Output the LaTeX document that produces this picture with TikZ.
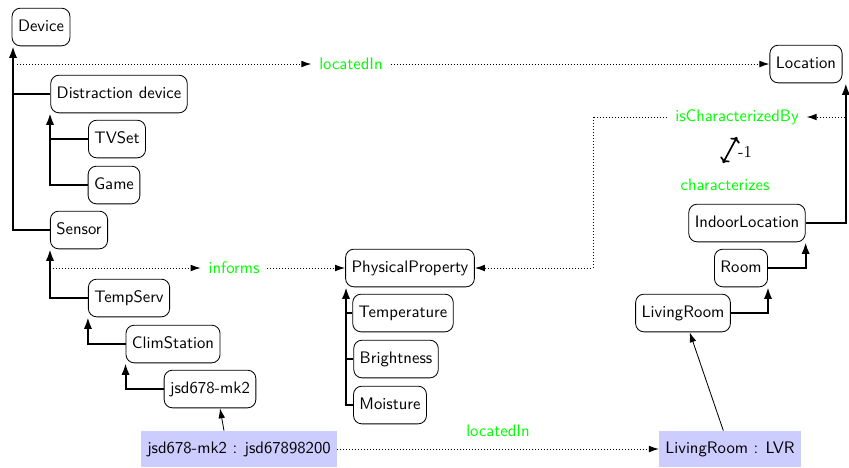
\documentclass[tikz,border=0pt]{standalone}
\usetikzlibrary{arrows.meta}
\begin{document}
\begin{tikzpicture}[x=0.6pt,y=-0.6pt,font=\sffamily,
  cls/.style={draw,line width=0.5pt,rounded corners=5pt,inner xsep=3.6pt,
    minimum height=22.6pt,text height=7pt,text depth=2pt},
  inst/.style={fill=blue!20,inner xsep=3.6pt,minimum height=21.6pt,
    text height=7pt,text depth=2pt},
  isa/.style={line width=1.2pt,-{Latex[length=7pt,width=5pt]}},
  rel/.style={line width=0.6pt,dash pattern=on 0.6pt off 1.2pt,-{Latex[length=6pt,width=4pt]}},
  reltail/.style={line width=0.6pt,dash pattern=on 0.6pt off 1.2pt},
  lbl/.style={text=green,inner xsep=4.5pt,inner ysep=1pt},
  io/.style={line width=0.5pt,-{Latex[length=6pt,width=4pt]}}]
\useasboundingbox (0,0) rectangle (849,467);

% classes
\node[cls] (device)   at (41,27)  {Device};
\node[cls] (location) at (806,64) {Location};
\node[cls] (distr)    at (119,94) {Distraction device};
\node[cls] (tvset)    at (117,139) {TVSet};
\node[cls] (game)     at (114,185) {Game};
\node[cls] (sensor)   at (79,230) {Sensor};
\node[cls] (tempserv) at (129,298) {TempServ};
\node[cls] (clim)     at (173,344) {ClimStation};
\node[cls] (mk2)      at (210,389) {jsd678-mk2};
\node[cls] (phys)     at (410,268) {PhysicalProperty};
\node[cls] (temp)     at (403,313) {Temperature};
\node[cls] (bright)   at (396,359) {Brightness};
\node[cls] (moist)    at (390,405) {Moisture};
\node[cls] (indoor)   at (747,223) {IndoorLocation};
\node[cls] (room)     at (741,268) {Room};
\node[cls] (living)   at (683,313) {LivingRoom};

% instances
\node[inst] (i1) at (239,449) {jsd678-mk2 : jsd67898200};
\node[inst] (i2) at (730,449) {LivingRoom : LVR};

% device hierarchy
\coordinate (dv) at (13,0);
\draw[isa] (sensor.west) -| (dv |- device.south);
\draw[line width=1.2pt] (distr.west) -- (dv |- distr.west);
\coordinate (dd) at (50,0);
\draw[isa] (game.west) -| (dd |- distr.south);
\draw[line width=1.2pt] (tvset.west) -- (dd |- tvset.west);
\draw[isa] (tempserv.west) -| (dd |- sensor.south);
\draw[isa] (clim.west) -| (tempserv.south west);
\draw[isa] (mk2.west) -| (clim.south west);

% physical property hierarchy
\coordinate (pv) at (346,0);
\draw[isa] (moist.west) -| (pv |- phys.south);
\draw[line width=1.2pt] (temp.west) -- (pv |- temp.west);
\draw[line width=1.2pt] (bright.west) -- (pv |- bright.west);

% location hierarchy
\draw[isa] (living.east) -| (room.south east);
\draw[isa] (room.east) -| (indoor.south east);
\draw[isa] (indoor.east) -| ([xshift=2pt]location.south east);

% locatedIn between classes
\node[lbl] (loc1) at (351,64) {locatedIn};
\coordinate (loc1s) at (17,64);
\draw[rel] (loc1s) -- (loc1.west);
\draw[rel] (loc1.east) -- (location.west);

% informs
\node[lbl] (inf) at (234,268) {informs};
\coordinate (infs) at (53,268);
\draw[rel] (infs) -- (inf.west);
\draw[rel] (inf.east) -- (phys.west);

% isCharacterizedBy / characterizes
\node[lbl] (icb) at (737,117) {isCharacterizedBy};
\coordinate (icbs) at (845,117);
\coordinate (icbc) at (593,117);
\draw[rel] (icbs) -- (icb.east);
\draw[reltail] (icb.west) -- (icbc);
\draw[rel] (icbc) |- (phys.east);
\node[lbl] (chz) at (725,185) {characterizes};
\coordinate (inva) at (723,163);
\coordinate (invb) at (737,137);
\draw[line width=1pt,{To[length=3pt]}-{To[length=3pt]}] (inva) -- (invb);
\node[font=\rmfamily,inner sep=0pt] (invl) at (745,152) {-1};

% instance links
\draw[io] ([xshift=-9pt]i1.north) -- ([xshift=6pt]mk2.south);
\draw[io] ([xshift=-4pt]i2.north) -- ([xshift=4pt]living.south);
\node[lbl] (loc2) at (498,431) {locatedIn};
\draw[rel] (i1.east) -- (i2.west);
\end{tikzpicture}
\end{document}
